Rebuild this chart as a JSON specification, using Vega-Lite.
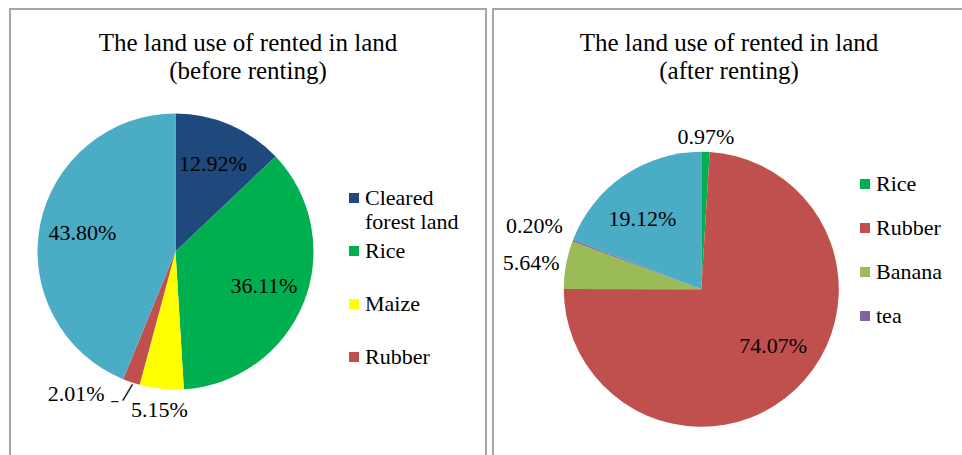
{
  "$schema": "https://vega.github.io/schema/vega-lite/v6.json",
  "background": "white",
  "padding": {"left": 9, "top": 8, "right": 0, "bottom": 0},
  "spacing": 5,
  "config": {
    "view": {"stroke": "#a6a6a6", "strokeWidth": 2},
    "font": "Liberation Serif",
    "text": {"font": "Liberation Serif", "fontSize": 22, "color": "black"},
    "legend": {"labelFont": "Liberation Serif", "labelFontSize": 22, "labelColor": "black"},
    "title": {"font": "Liberation Serif", "fontSize": 25, "fontWeight": "normal", "color": "black", "lineHeight": 28, "anchor": "middle", "frame": "group", "offset": -75}
  },
  "resolve": {"scale": {"color": "independent", "theta": "independent", "x": "independent", "y": "independent"}, "legend": {"color": "independent"}},
  "hconcat": [
    {
      "width": 476,
      "height": 452,
      "title": {"text": ["The land use of rented in land", "(before renting)"]},
      "data": {"values": [
        {"land": "Cleared forest land", "pct": 0.1292, "o": 1},
        {"land": "Rice", "pct": 0.3611, "o": 2},
        {"land": "Maize", "pct": 0.0515, "o": 3},
        {"land": "Rubber", "pct": 0.0201, "o": 4},
        {"land": "Other", "pct": 0.4380, "o": 5}
      ]},
      "encoding": {
        "theta": {"field": "pct", "type": "quantitative", "stack": true},
        "order": {"field": "o", "type": "quantitative"}
      },
      "layer": [
        {
          "mark": {"type": "point", "opacity": 0, "size": 0},
          "encoding": {"x": {"datum": 0, "type": "quantitative", "axis": null, "scale": {"domain": [-1, 1]}}, "y": {"datum": 0, "type": "quantitative", "axis": null, "scale": {"domain": [-1, 1]}}, "theta": null, "order": null}
        },
        {
          "mark": {"type": "arc", "outerRadius": 138, "x": 165.5, "y": 242.5},
          "encoding": {
            "color": {
              "field": "land", "type": "nominal",
              "scale": {"domain": ["Cleared forest land", "Rice", "Maize", "Rubber", "Other"], "range": ["#1F497D", "#00B050", "#FFFF00", "#C0504D", "#4BACC6"]},
              "legend": {"orient": "none", "legendX": 333, "legendY": 178, "values": ["Cleared forest land", "Rice", "Maize", "Rubber"], "title": null, "symbolType": "square", "symbolSize": 100, "symbolStrokeWidth": 0, "labelFont": "Liberation Serif", "labelFontSize": 22, "labelColor": "black", "labelOffset": 0, "labelLimit": 300, "rowPadding": 7, "labelExpr": "datum.label == 'Cleared forest land' ? ['Cleared', 'forest land'] : [datum.label, '']"}
            }
          }
        },
        {
          "transform": [{"filter": "datum.o <= 4"}],
          "mark": {"type": "text", "radius": 149, "x": 165.5, "y": 242.5, "angle": 120.7, "font": "DejaVu Sans", "fontSize": 21, "color": "#1a1a1a"},
          "encoding": {"text": {"condition": {"test": "datum.o == 4", "value": "—"}, "value": ""}}
        },
        {
          "transform": [{"filter": "datum.o <= 4"}],
          "mark": {"type": "text", "radius": 160, "x": 165.5, "y": 242.5, "dx": -9.5, "dy": -2.5, "font": "DejaVu Sans", "fontSize": 18, "color": "#1a1a1a"},
          "encoding": {"text": {"condition": {"test": "datum.o == 4", "value": "–"}, "value": ""}}
        },
        {
          "mark": {"type": "text", "radius": 95, "x": 165.5, "y": 242.5, "font": "Liberation Serif", "fontSize": 22, "color": "black"},
          "encoding": {"text": {"condition": {"test": "datum.pct > 0.1", "field": "pct", "format": ".2%"}, "value": ""}}
        },
        {
          "transform": [{"filter": "datum.o <= 3"}],
          "mark": {"type": "text", "radius": 159, "x": 165.5, "y": 242.5, "font": "Liberation Serif", "fontSize": 22, "color": "black"},
          "encoding": {"text": {"condition": {"test": "datum.o == 3", "field": "pct", "format": ".2%"}, "value": ""}}
        },
        {
          "transform": [{"filter": "datum.o <= 4"}],
          "mark": {"type": "text", "radius": 160, "x": 165.5, "y": 242.5, "dx": -48, "dy": -9, "font": "Liberation Serif", "fontSize": 22, "color": "black"},
          "encoding": {"text": {"condition": {"test": "datum.o == 4", "field": "pct", "format": ".2%"}, "value": ""}}
        }
      ]
    },
    {
      "width": 472,
      "height": 452,
      "title": {"text": ["The land use of rented in land", "(after renting)"]},
      "data": {"values": [
        {"land": "Rice", "pct": 0.0097, "o": 1},
        {"land": "Rubber", "pct": 0.7407, "o": 2},
        {"land": "Banana", "pct": 0.0564, "o": 3},
        {"land": "tea", "pct": 0.0020, "o": 4},
        {"land": "Other", "pct": 0.1912, "o": 5}
      ]},
      "encoding": {
        "theta": {"field": "pct", "type": "quantitative", "stack": true},
        "order": {"field": "o", "type": "quantitative"}
      },
      "layer": [
        {
          "mark": {"type": "point", "opacity": 0, "size": 0},
          "encoding": {"x": {"datum": 0, "type": "quantitative", "axis": null, "scale": {"domain": [-1, 1]}}, "y": {"datum": 0, "type": "quantitative", "axis": null, "scale": {"domain": [-1, 1]}}, "theta": null, "order": null}
        },
        {
          "mark": {"type": "arc", "outerRadius": 137.5, "x": 208.3, "y": 280.3},
          "encoding": {
            "color": {
              "field": "land", "type": "nominal",
              "scale": {"domain": ["Rice", "Rubber", "Banana", "tea", "Other"], "range": ["#00B050", "#C0504D", "#9BBB59", "#8064A2", "#4BACC6"]},
              "legend": {"orient": "none", "legendX": 361, "legendY": 164, "values": ["Rice", "Rubber", "Banana", "tea"], "title": null, "symbolType": "square", "symbolSize": 100, "symbolStrokeWidth": 0, "labelFont": "Liberation Serif", "labelFontSize": 22, "labelColor": "black", "labelOffset": 0, "labelLimit": 300, "rowPadding": 22}
            }
          }
        },
        {
          "transform": [{"filter": "datum.o <= 2"}],
          "mark": {"type": "text", "radius": 92, "x": 208.3, "y": 280.3, "dx": 9, "dy": -10, "font": "Liberation Serif", "fontSize": 22, "color": "black"},
          "encoding": {"text": {"condition": {"test": "datum.o == 2", "field": "pct", "format": ".2%"}, "value": ""}}
        },
        {
          "mark": {"type": "text", "radius": 92, "x": 208.3, "y": 280.3, "dx": -7, "dy": 6, "font": "Liberation Serif", "fontSize": 22, "color": "black"},
          "encoding": {"text": {"condition": {"test": "datum.o == 5", "field": "pct", "format": ".2%"}, "value": ""}}
        },
        {
          "transform": [{"filter": "datum.o <= 1"}],
          "mark": {"type": "text", "radius": 152, "x": 208.3, "y": 280.3, "font": "Liberation Serif", "fontSize": 22, "color": "black"},
          "encoding": {"text": {"field": "pct", "format": ".2%"}}
        },
        {
          "transform": [{"filter": "datum.o <= 3"}],
          "mark": {"type": "text", "radius": 173, "x": 208.3, "y": 280.3, "dy": 5, "font": "Liberation Serif", "fontSize": 22, "color": "black"},
          "encoding": {"text": {"condition": {"test": "datum.o == 3", "field": "pct", "format": ".2%"}, "value": ""}}
        },
        {
          "transform": [{"filter": "datum.o <= 4"}],
          "mark": {"type": "text", "radius": 178.5, "x": 208.3, "y": 280.3, "font": "Liberation Serif", "fontSize": 22, "color": "black"},
          "encoding": {"text": {"condition": {"test": "datum.o == 4", "field": "pct", "format": ".2%"}, "value": ""}}
        }
      ]
    }
  ]
}
